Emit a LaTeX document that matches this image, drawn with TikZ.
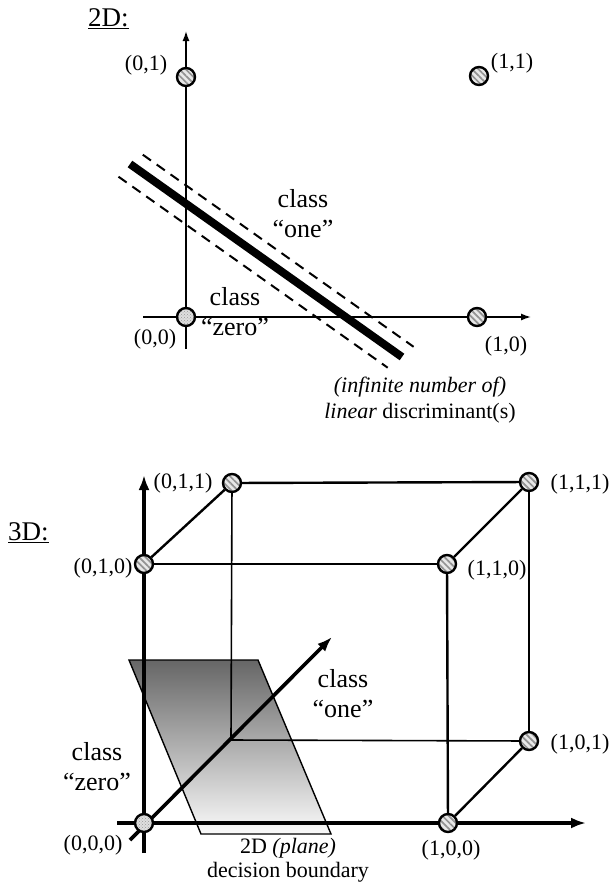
\documentclass[tikz,border=0pt]{standalone}
\usepackage{fontspec}
\setmainfont{Liberation Serif}
\usetikzlibrary{arrows.meta,patterns,patterns.meta}
\pgfdeclarelayer{planelayer}
\pgfdeclarelayer{linelayer}
\pgfsetlayers{planelayer,linelayer,main}
\begin{document}
\begin{tikzpicture}[x=1pt,y=-1pt,
  lbl/.style={font=\fontsize{22}{26}\selectfont, inner sep=0pt},
  cls/.style={font=\fontsize{26}{30}\selectfont, align=center, inner sep=0pt, anchor=north},
  ttl/.style={font=\fontsize{27}{30}\selectfont, inner sep=0pt, anchor=base west},
  pt/.style={circle, draw=black, line width=2.4pt, minimum size=18pt, inner sep=0pt,
    preaction={fill=gray!18}, pattern={Lines[angle=-45,distance=4.5pt,line width=1.7pt]}, pattern color=gray!85},
  ptz/.style={circle, draw=black, line width=2.4pt, minimum size=18pt, inner sep=0pt,
    preaction={fill=gray!25}, pattern=crosshatch dots, pattern color=gray!80},
  axisA/.style={line width=1.4pt, -{Latex[length=10pt,width=7pt]}},
  axisB/.style={line width=3.6pt, -{Latex[length=15pt,width=11pt]}},
  edgeF/.style={line width=2.4pt},
  edgeH/.style={line width=1.6pt},
  discr/.style={line width=8pt},
  margin/.style={line width=2pt, dash pattern=on 10pt off 7pt},
  planestyle/.style={draw=black, line width=1.4pt, top color=black!60, bottom color=black!2}
]
\useasboundingbox (0,0) rectangle (612,889);

% ---------------- 2D ----------------
\node[ttl] (t2) at (88,26) {\underline{2D:}};

\coordinate (x2s) at (143,317);
\coordinate (x2e) at (531,317);
\coordinate (y2s) at (186,349);
\coordinate (y2e) at (186,31);
\begin{pgfonlayer}{linelayer}
\draw[axisA] (x2s) -- (x2e);
\draw[axisA] (y2s) -- (y2e);
\end{pgfonlayer}

\node[ptz] (a00) at (186,317) {};
\node[pt]  (a01) at (186,77) {};
\node[pt]  (a11) at (479,76) {};
\node[pt]  (a10) at (477,317) {};

\node[lbl] (la00) at (155,339) {(0,0)};
\node[lbl] (la01) at (146,65) {(0,1)};
\node[lbl] (la11) at (512,63) {(1,1)};
\node[lbl] (la10) at (506,346) {(1,0)};

\coordinate (d1) at (130,164);
\coordinate (d2) at (402,357);
\coordinate (u1) at (142.8,154.7);
\coordinate (u2) at (413.6,346.8);
\coordinate (w1) at (118.5,176.7);
\coordinate (w2) at (387.7,367.7);
\draw[discr] (d1) -- (d2);
\draw[margin] (u1) -- (u2);
\draw[margin] (w1) -- (w2);

\node[cls] (cz2) at (235,287) {class\\“zero”};
\node[cls] (co2) at (303,189) {class\\“one”};
\node[lbl, align=center, anchor=north] (disc) at (420,377) {\textit{(infinite number of)}\\\textit{linear} discriminant(s)};

% ---------------- 3D ----------------
\node[ttl] (t3) at (8,540) {\underline{3D:}};

\coordinate (pl1) at (129,660);
\coordinate (pl2) at (258,660);
\coordinate (pl3) at (331,834);
\coordinate (pl4) at (201,834);
\begin{pgfonlayer}{planelayer}
\draw[planestyle] (pl1) -- (pl2) -- (pl3) -- (pl4) -- cycle;
\end{pgfonlayer}

\coordinate (x3s) at (117,823);
\coordinate (x3e) at (586,823);
\coordinate (y3s) at (144,853);
\coordinate (y3e) at (144,475);
\coordinate (z3s) at (130,840);
\coordinate (z3e) at (332,637);
\coordinate (c001) at (231,740);

\node[ptz] (b000) at (144,823) {};
\node[pt]  (b100) at (448,823) {};
\node[pt]  (b010) at (144,564) {};
\node[pt]  (b110) at (447,564) {};
\node[pt]  (b011) at (232,483) {};
\node[pt]  (b111) at (529,482) {};
\node[pt]  (b101) at (529,741) {};

\begin{pgfonlayer}{linelayer}
\draw[axisB] (x3s) -- (x3e);
\draw[axisB] (y3s) -- (y3e);
\draw[edgeH] (b011) -- (c001);
\draw[edgeH] (c001) -- (b101);
\draw[axisB] (z3s) -- (z3e);
\end{pgfonlayer}

\draw[edgeF] (b010) -- (b110);
\draw[edgeF] (b011) -- (b111);
\draw[edgeF] (b010) -- (b011);
\draw[edgeF] (b110) -- (b111);
\draw[edgeF] (b110) -- (b100);
\draw[edgeF] (b111) -- (b101);
\draw[edgeF] (b101) -- (b100);

\node[lbl] (lb000) at (93,845) {(0,0,0)};
\node[lbl] (lb100) at (451,850) {(1,0,0)};
\node[lbl] (lb010) at (103,568) {(0,1,0)};
\node[lbl] (lb110) at (497,570) {(1,1,0)};
\node[lbl] (lb011) at (183,483) {(0,1,1)};
\node[lbl] (lb111) at (580,484) {(1,1,1)};
\node[lbl] (lb101) at (580,744) {(1,0,1)};

\node[cls] (cz3) at (97,742) {class\\“zero”};
\node[cls] (co3) at (343,669) {class\\“one”};
\node[lbl, align=center, anchor=north, font=\fontsize{22}{24}\selectfont] (dec) at (288,838) {2D \textit{(plane)}\\decision boundary};
\end{tikzpicture}
\end{document}
